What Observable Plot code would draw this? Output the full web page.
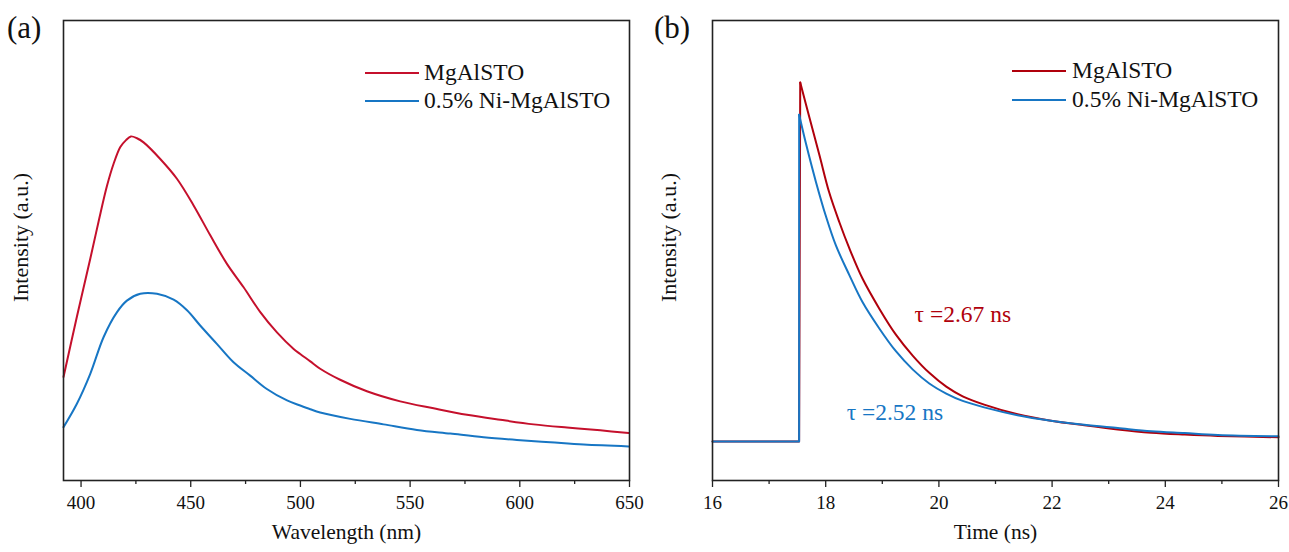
<!DOCTYPE html>
<html>
<head>
<meta charset="utf-8">
<script src="https://cdn.jsdelivr.net/npm/d3@7"></script>
<script src="https://cdn.jsdelivr.net/npm/@observablehq/plot@0.6"></script>
<style>
  html, body { margin: 0; padding: 0; background: #fff; }
  #wrap { position: relative; width: 1289px; height: 552px; font-family: "Liberation Serif", "Times New Roman", serif; color: #111; }
  .panel { position: absolute; top: 0; }
  .plabel { position: absolute; font-size: 31px; line-height: 1; }
  .lg-line { position: absolute; height: 2px; }
  .lg-text { position: absolute; font-size: 23.5px; line-height: 1; white-space: nowrap; color: #111; }
</style>
</head>
<body>
<div id="wrap">
  <div id="pa" class="panel" style="left:0px"></div>
  <div id="pb" class="panel" style="left:645px"></div>
  <div class="plabel" style="left:7px;top:12px">(a)</div>
  <div class="plabel" style="left:654px;top:12px">(b)</div>
  <div id="legA"></div>
  <div id="legB"></div>
</div>
<script>
// ---------- Data: panel (a) photoluminescence ----------
const seriesNames = ["MgAlSTO", "0.5% Ni-MgAlSTO"];
const colorsA = ["#c5102c", "#1776c4"];
const colorsB = ["#b0000c", "#1776c4"];

const wlRed = [392, 398.1, 404.2, 408.0, 411.8, 414.8, 417.9, 420.5, 422.7, 425.5, 428.5, 436.1, 443.7, 451.3, 458.9, 466.5, 474.1, 481.7, 489.3, 496.9, 499.9, 504.5, 509.0, 518.1, 530.3, 545.5, 560.7, 575.9, 591.1, 606.3, 621.5, 636.7, 649.6];
const intRed = [22.5, 35.6, 48.2, 56.3, 64.0, 68.8, 72.5, 74.0, 74.8, 74.4, 73.5, 69.9, 65.6, 59.8, 53.3, 47.1, 42.0, 36.6, 32.2, 28.6, 27.5, 25.9, 24.3, 21.9, 19.4, 17.2, 15.7, 14.3, 13.2, 12.2, 11.5, 10.9, 10.3];

const wlBlue = [392, 398.1, 404.2, 410.3, 416.4, 420.9, 427.0, 434.6, 442.2, 448.3, 454.3, 461.9, 469.5, 477.1, 484.7, 493.9, 499.9, 504.5, 509.0, 522.7, 537.9, 553.1, 568.3, 583.5, 598.7, 613.9, 629.1, 649.6];
const intBlue = [11.6, 16.7, 23.2, 31.2, 36.6, 39.1, 40.6, 40.6, 39.3, 37.0, 33.7, 29.7, 25.7, 22.8, 19.9, 17.4, 16.3, 15.5, 14.8, 13.4, 12.2, 11.0, 10.2, 9.4, 8.8, 8.3, 7.8, 7.4];

const wlTicks = [400, 450, 500, 550, 600, 650];
const wlMinor = [425, 475, 525, 575, 625];

// ---------- Data: panel (b) decay ----------
const tRed = [16, 17.53, 17.55, 17.71, 17.89, 18.06, 18.24, 18.42, 18.65, 18.95, 19.24, 19.54, 19.83, 20.13, 20.42, 20.80, 21.39, 21.98, 22.57, 23.16, 23.75, 24.34, 24.93, 26.0];
const iRed = [8.5, 8.5, 86.5, 79.0, 70.7, 62.7, 56.2, 50.4, 43.9, 37.3, 31.7, 27.1, 23.4, 20.4, 18.3, 16.5, 14.4, 13.0, 12.0, 11.1, 10.4, 10.0, 9.7, 9.4];

const tBlue = [16, 17.53, 17.531, 17.65, 17.83, 18.00, 18.18, 18.42, 18.65, 18.95, 19.24, 19.54, 19.83, 20.13, 20.42, 20.80, 21.39, 21.98, 22.57, 23.16, 23.75, 24.34, 24.93, 26.0];
const iBlue = [8.5, 8.5, 79.5, 73.3, 64.8, 57.6, 51.1, 44.6, 38.8, 33.0, 28.1, 24.1, 21.1, 18.9, 17.3, 15.9, 14.2, 13.0, 12.1, 11.4, 10.7, 10.3, 9.9, 9.6];

const tTicks = [16, 18, 20, 22, 24, 26];
const tMinor = [17, 19, 21, 23, 25];

const tauLabels = ["τ =2.67 ns", "τ =2.52 ns"];
const tauTime = [19.57, 18.37];
const tauInt = [36.1, 14.8];

// ---------- Build tables ----------
const redA = wlRed.map((x, i) => ({x, y: intRed[i]}));
const blueA = wlBlue.map((x, i) => ({x, y: intBlue[i]}));
const redB = tRed.map((x, i) => ({x, y: iRed[i]}));
const blueB = tBlue.map((x, i) => ({x, y: iBlue[i]}));
// baseline + excitation jump (first 3 points) drawn straight, decay (from the peak on) drawn smooth
const redRise = redB.slice(0, 3), redDecay = redB.slice(2);
const blueRise = blueB.slice(0, 3), blueDecay = blueB.slice(2);
const tauData = tauLabels.map((t, i) => ({t, x: tauTime[i], y: tauInt[i], c: colorsB[i]}));

const common = {
  height: 552,
  marginTop: 20,
  marginBottom: 72,
  style: {fontFamily: "'Liberation Serif', 'Times New Roman', serif", color: "#111", background: "transparent", overflow: "visible"},
  y: {domain: [0, 100], axis: null}
};

function axisMarks(minor, major, title, yTitleDx) {
  return [
    Plot.axisX(minor, {tickSize: 4, tickFormat: () => "", label: null, strokeWidth: 1.3, stroke: "#222"}),
    Plot.axisX(major, {tickSize: 7, tickPadding: 8, fontSize: 19, strokeWidth: 1.3, stroke: "#222", label: null}),
    Plot.text([title], {frameAnchor: "bottom", dy: 58, fontSize: 21.5, fill: "#111", textAnchor: "middle"}),
    Plot.text(["Intensity (a.u.)"], {frameAnchor: "left", textAnchor: "middle", rotate: -90, dx: yTitleDx, dy: -13, fontSize: 22, fill: "#111"}),
    Plot.frame({stroke: "#222", strokeWidth: 1.6})
  ];
}

const plotA = Plot.plot({
  ...common,
  width: 645,
  marginLeft: 63,
  marginRight: 16,
  x: {domain: [392, 650]},
  marks: [
    Plot.line(redA, {x: "x", y: "y", stroke: colorsA[0], strokeWidth: 2, curve: "catmull-rom"}),
    Plot.line(blueA, {x: "x", y: "y", stroke: colorsA[1], strokeWidth: 2, curve: "catmull-rom"}),
    ...axisMarks(wlMinor, wlTicks, "Wavelength (nm)", -43)
  ]
});

const plotB = Plot.plot({
  ...common,
  width: 644,
  marginLeft: 67,
  marginRight: 11,
  x: {domain: [16, 26]},
  marks: [
    Plot.line(redRise, {x: "x", y: "y", stroke: colorsB[0], strokeWidth: 2, curve: "linear"}),
    Plot.line(redDecay, {x: "x", y: "y", stroke: colorsB[0], strokeWidth: 2, curve: "catmull-rom"}),
    Plot.line(blueRise, {x: "x", y: "y", stroke: colorsB[1], strokeWidth: 2, curve: "linear"}),
    Plot.line(blueDecay, {x: "x", y: "y", stroke: colorsB[1], strokeWidth: 2, curve: "catmull-rom"}),
    Plot.text(tauData, {x: "x", y: "y", text: "t", fill: "c", textAnchor: "start", fontSize: 23.5}),
    ...axisMarks(tMinor, tTicks, "Time (ns)", -44)
  ]
});

document.getElementById("pa").appendChild(plotA);
document.getElementById("pb").appendChild(plotB);

// ---------- Legends ----------
function legend(el, lineX, textX, rowsY, colors) {
  seriesNames.forEach((name, i) => {
    const ln = document.createElement("div");
    ln.className = "lg-line";
    ln.style.left = lineX + "px";
    ln.style.width = "54px";
    ln.style.top = (rowsY[i] - 1) + "px";
    ln.style.background = colors[i];
    el.appendChild(ln);
    const tx = document.createElement("div");
    tx.className = "lg-text";
    tx.style.left = textX + "px";
    tx.style.top = (rowsY[i] - 12) + "px";
    tx.textContent = name;
    el.appendChild(tx);
  });
}
legend(document.getElementById("legA"), 365, 424, [73, 101], colorsA);
legend(document.getElementById("legB"), 1012, 1072, [71, 100], colorsB);
</script>
</body>
</html>
